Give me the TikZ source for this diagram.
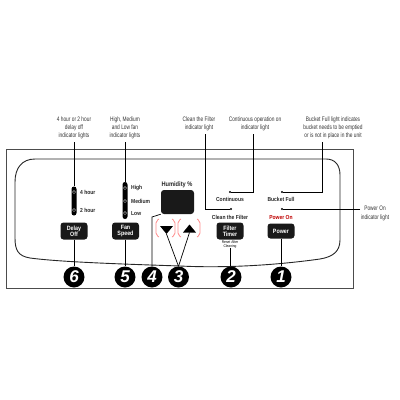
\documentclass[tikz,border=0pt]{standalone}
\usepackage{fontspec}
\setmainfont{Liberation Sans}
\newfontfamily\cond[FakeStretch=0.74]{Liberation Sans}
\newfontfamily\labf[FakeStretch=0.86]{Liberation Sans}
\begin{document}
\begin{tikzpicture}[x=1pt,y=-1pt,
  toplab/.style={align=center,inner sep=0pt,text=black!80,font=\cond\fontsize{6.5}{8.2}\selectfont},
  plab/.style={inner sep=0pt,font=\labf\bfseries\fontsize{5.8}{6}\selectfont,text=black!85},
  lead/.style={draw=black,line width=0.7pt},
  dotn/.style={circle,fill=black,minimum size=2.2pt,inner sep=0pt},
  bar/.style={rectangle,rounded corners=2.5pt,fill=black,minimum width=5pt,inner sep=0pt},
  ind/.style={circle,draw=white!65!black,line width=0.5pt,fill=black,minimum size=3.2pt,inner sep=0pt},
  btn/.style={rectangle,rounded corners=3pt,fill=black!90,text=white,align=center,inner sep=1pt,
    minimum width=27pt,minimum height=17pt,font=\labf\bfseries\fontsize{6.2}{6.4}\selectfont},
  num/.style={circle,fill=black,text=white,minimum size=21pt,inner sep=0pt,
    font=\bfseries\itshape\fontsize{17}{17}\selectfont},
  brk/.style={draw=red!45!white,line width=0.8pt,rounded corners=2pt}
]
\useasboundingbox (0,0) rectangle (400,400);
% panel outlines
\draw[black!70,line width=0.9pt] (6,149) rectangle (353,288);
\draw[black!85,line width=0.9pt] (35,159) -- (326,159) .. controls (335,159) and (340,165) .. (340,175)
  -- (340,240) .. controls (340,252) and (332,257) .. (320,259)
  .. controls (270,266) and (220,268) .. (180,266)
  .. controls (120,264) and (60,262) .. (30,258)
  .. controls (18,256) and (15,250) .. (15,238) -- (15,182)
  .. controls (15,168) and (22,159) .. (35,159) -- cycle;

% top labels
\node[toplab] (t6) at (74,128) {4 hour or 2 hour\\delay off\\indicator lights};
\node[toplab] (t5) at (125,128) {High, Medium\\and Low fan\\indicator lights};
\node[toplab] (tcf) at (199,124) {Clean the Filter\\indicator light};
\node[toplab] (tco) at (255,124) {Continuous operation on\\indicator light};
\node[toplab] (tbf) at (333,128) {Bucket Full light indicates\\bucket needs to be emptied\\or is not in place in the unit};
\node[toplab] (tpo) at (375,213.5) {Power On\\indicator light};

% delay off column
\node[bar,minimum height=29pt] (bar6) at (74,201) {};
\node[ind] (i4h) at (74,192) {};
\node[ind] (i2h) at (74,210) {};
\node[plab,anchor=west] (l4h) at (80,192) {4 hour};
\node[plab,anchor=west] (l2h) at (80,210.5) {2 hour};
\node[btn] (b6) at (74,231) {Delay\\Off};
\node[num] (n6) at (74,277) {6};

% fan column
\node[bar,minimum height=37pt] (bar5) at (125,200.5) {};
\node[ind] (ihi) at (125,188) {};
\node[ind] (ime) at (125,201) {};
\node[ind] (ilo) at (125,213) {};
\node[plab,anchor=west] (lhi) at (131,188) {High};
\node[plab,anchor=west] (lme) at (131,201) {Medium};
\node[plab,anchor=west] (llo) at (131,213.5) {Low};
\node[btn] (b5) at (125.5,231) {Fan\\Speed};
\node[num] (n5) at (125,277) {5};

% humidity
\node[plab,font=\labf\bfseries\fontsize{6.6}{7}\selectfont] (hum) at (177,185) {Humidity \%};
\node[rectangle,rounded corners=3pt,fill=black!90,minimum width=33pt,minimum height=24pt,inner sep=0pt] (disp) at (177.5,202) {};
\node[num] (n4) at (152,277) {4};
\coordinate (k4) at (152,217);
\draw[lead] (n4) -- (k4) -- (disp.south west);

% arrows
\draw[brk] (159,219) -- (156,221) -- (156,235) -- (159,237);
\draw[brk] (172,219) -- (175,221) -- (175,235) -- (172,237);
\draw[brk] (181,219) -- (178,221) -- (178,235) -- (181,237);
\draw[brk] (197,219) -- (200,221) -- (200,235) -- (197,237);
\coordinate (dnt) at (166.5,234);
\coordinate (upb) at (189.5,232.5);
\fill[black] (160,226) -- (173,226) -- (dnt) -- cycle;
\fill[black] (183,232.5) -- (196,232.5) -- (189.5,224.5) -- cycle;
\node[num] (n3) at (178.5,277) {3};
\draw[lead] (n3.north) -- (dnt);
\draw[lead] (n3.north) -- (upb);

% filter / continuous
\node[plab] (lco) at (230,199) {Continuous};
\node[plab] (lcf) at (230,217) {Clean the Filter};
\node[btn] (b2) at (230,231) {Filter\\Timer};
\node[inner sep=0pt,align=center,font=\labf\fontsize{3.8}{3.9}\selectfont] (rst) at (230,244.5) {Reset After\\Cleaning};
\node[num] (n2) at (231,277) {2};
\draw[lead] (rst.south) -- (rst.south |- n2.north);

% bucket / power
\node[plab] (lbf) at (281,199) {Bucket Full};
\node[plab,text=red!75!black] (lpo) at (281,217) {Power On};
\node[btn,minimum width=27pt,minimum height=15pt] (b1) at (281,231) {Power};
\node[num] (n1) at (281,277) {1};

% vertical connectors button -> number
\draw[lead] (b6) -- (n6);
\draw[lead] (b5.south -| n5) -- (n5);
\draw[lead] (b1) -- (n1);

% leaders from top labels
\node[dotn] (dco) at (230,192) {};
\node[dotn] (dbf) at (282,192) {};
\node[dotn] (dcf) at (231,209) {};
\node[dotn] (dpo) at (282,209) {};
\coordinate (kco) at (253,192);
\coordinate (kbf) at (322,192);
\coordinate (kcf) at (205,209);
\coordinate (kpo) at (360,209);
\draw[lead] ([yshift=-3pt]t6.south) -- (bar6.north);
\draw[lead] ([yshift=-3pt]t5.south) -- (bar5.north);
\draw[lead] (tcf.south -| kcf) ++(0,3) -- (kcf) -- (dcf);
\draw[lead] (tco.south -| kco) ++(0,3) -- (kco) -- (dco);
\draw[lead] (tbf.south -| kbf) ++(0,3) -- (kbf) -- (dbf);
\draw[lead] (kpo) -- (dpo);
\end{tikzpicture}
\end{document}
